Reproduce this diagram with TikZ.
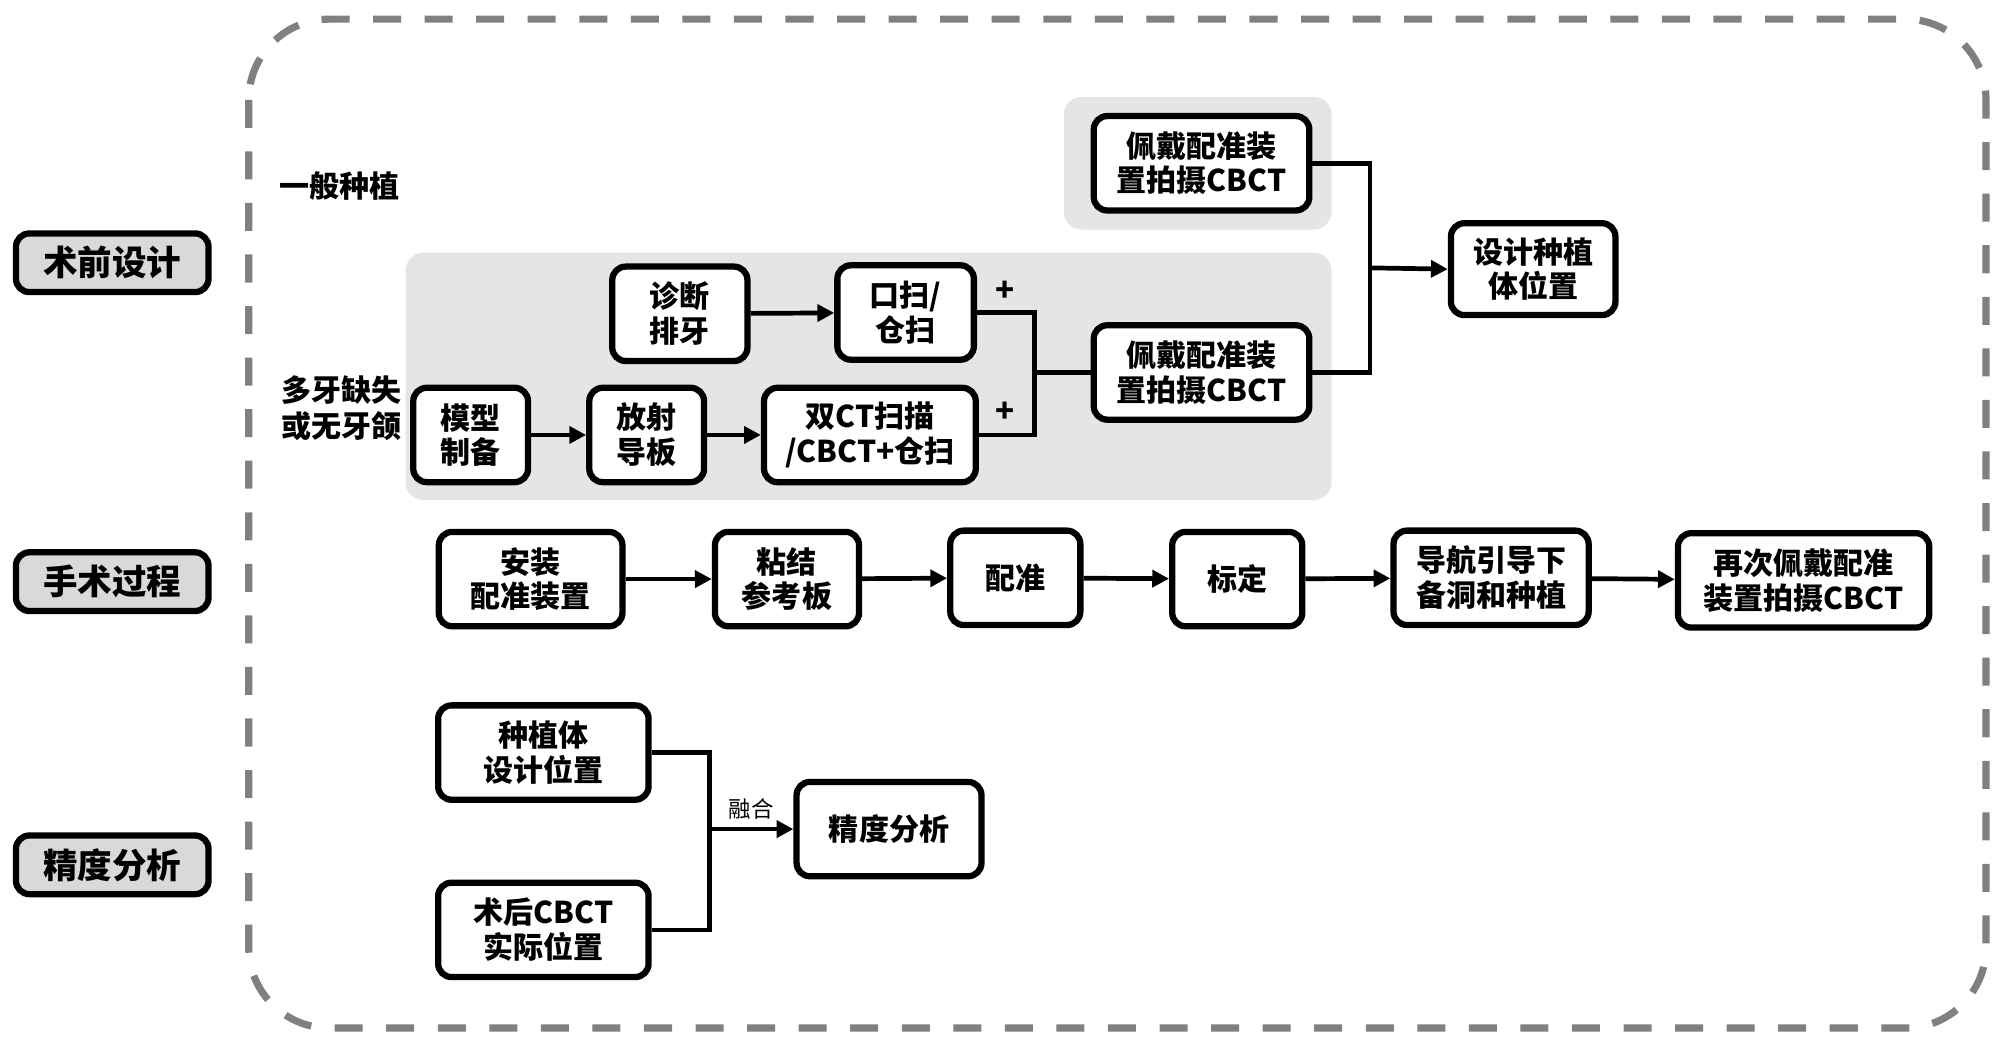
\documentclass[tikz,border=0pt]{standalone}
\usepackage{fontspec}
\setmainfont{Noto Sans CJK SC}
\usetikzlibrary{arrows.meta}

\begin{document}
\begin{tikzpicture}[x=0.2mm,y=-0.2mm,
        box/.style={draw, line width=2.8pt, rounded corners=6pt, fill=white, align=center,
            minimum height=14.8mm, inner sep=0pt, font=\fontsize{13.4}{15.5}\selectfont\bfseries},
        sidebox/.style={box, fill=gray!30, minimum width=30.2mm, minimum height=9.2mm,
            font=\fontsize{15.4}{18}\selectfont\bfseries},
        note/.style={align=center, font=\fontsize{13.4}{15.9}\selectfont\bfseries},
        panel/.style={fill=gray!20, rounded corners=8pt},
        conn/.style={line width=2.1pt},
        flow/.style={conn, -{Triangle[length=7.5pt,width=7.5pt]}}]
        \useasboundingbox (0,0) rectangle (1568,822);
        % marc puntejat
        \draw[gray, line width=3.2pt, dash pattern=on 12.5pt off 10.5pt, rounded corners=36pt]
            (195,15) rectangle (1557,806);
        % fons grisos
        \fill[panel] (834,76) rectangle (1044,180);
        \fill[panel] (318,198) rectangle (1044,392);

        % etapes
        \node[sidebox] (shuqian) at (88,206) {术前设计};
        \node[sidebox] (shoushu) at (88,456) {手术过程};
        \node[sidebox] (jingdu) at (88,678) {精度分析};

        \node[note] (yiban) at (266,146) {一般种植};
        \node[note] (duoya) at (268,320) {多牙缺失\\或无牙颌};

        %术前设计
        \node[box, minimum width=33.8mm] (pdtop) at (942,128) {佩戴配准装\\置拍摄CBCT};
        \node[box, minimum width=25.8mm, minimum height=14.4mm] (shejiwz) at (1202,211) {设计种植\\体位置};
        \node[box, minimum width=21.2mm] (zhenduan) at (533,246) {诊断\\排牙};
        \node[box, minimum width=21.4mm] (kousao) at (710,245) {口扫/\\仓扫};
        \node[box, minimum width=33.8mm] (pdlow) at (942,292) {佩戴配准装\\置拍摄CBCT};
        \node[box, minimum width=18mm] (moxing) at (369,341) {模型\\制备};
        \node[box, minimum width=18mm] (fangshe) at (507,341) {放射\\导板};
        \node[box, minimum width=33.2mm] (shuangct) at (682,341) {双CT扫描\\/CBCT+仓扫};
        \node[font=\fontsize{14}{14}\selectfont\bfseries] (plusa) at (788,228) {+};
        \node[font=\fontsize{14}{14}\selectfont\bfseries] (plusb) at (788,323) {+};

        \coordinate (ja) at (811,292);
        \coordinate (jb) at (1074,210);
        \draw[flow] (zhenduan) -- (kousao);
        \draw[flow] (moxing) -- (fangshe);
        \draw[flow] (fangshe) -- (shuangct);
        \draw[conn] (kousao.east) -| (ja) |- (shuangct.east);
        \draw[conn] (ja) -- (pdlow.west);
        \draw[conn] (pdtop.east) -| (jb) |- (pdlow.east);
        \draw[flow] (jb) -- (shejiwz.west);

        % 手术过程
        \node[box, minimum width=28.8mm] (anzhuang) at (416,454) {安装\\配准装置};
        \node[box, minimum width=22.6mm] (zhanjie) at (617,454) {粘结\\参考板};
        \node[box, minimum width=20.4mm] (peizhun) at (796,453) {配准};
        \node[box, minimum width=20.4mm] (biaoding) at (970,454) {标定};
        \node[box, minimum width=30.6mm] (daohang) at (1169,453) {导航引导下\\备洞和种植};
        \node[box, minimum width=39.4mm] (zaici) at (1414,455) {再次佩戴配准\\装置拍摄CBCT};
        \draw[flow] (anzhuang) -- (zhanjie);
        \draw[flow] (zhanjie) -- (peizhun);
        \draw[flow] (peizhun) -- (biaoding);
        \draw[flow] (biaoding) -- (daohang);
        \draw[flow] (daohang) -- (zaici);

        % 精度分析
        \node[box, minimum width=33mm] (zhitisj) at (426,590) {种植体\\设计位置};
        \node[box, minimum width=33mm] (shuhou) at (426,729) {术后CBCT\\实际位置};
        \node[box, minimum width=29mm] (jingdufx) at (697,650) {精度分析};
        \coordinate (jc) at (556,650);
        \draw[conn] (zhitisj.east) -| (jc) |- (shuhou.east);
        \draw[flow] (jc) -- node[above, font=\fontsize{10}{10}\selectfont] (ronghe) {融合} (jingdufx.west);
    \end{tikzpicture}
\end{document}
